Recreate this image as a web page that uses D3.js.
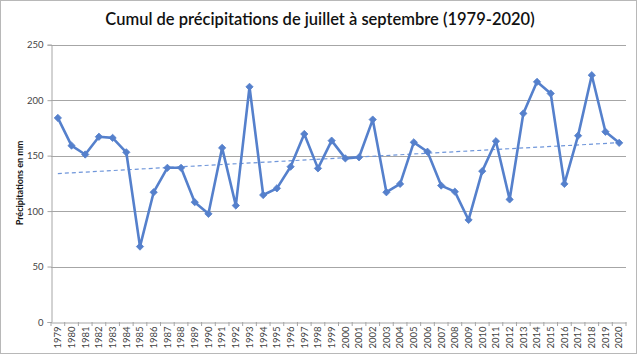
<!DOCTYPE html>
<html><head><meta charset="utf-8">
<script src="https://cdn.jsdelivr.net/npm/d3@7"></script>
<style>body{margin:0;background:#fff}svg{display:block}</style>
</head><body>
<svg id="c" width="640" height="356"></svg>
<script>
const years = ["1979","1980","1981","1982","1983","1984","1985","1986","1987","1988","1989","1990","1991","1992","1993","1994","1995","1996","1997","1998","1999","2000","2001","2002","2003","2004","2005","2006","2007","2008","2009","2010","2011","2012","2013","2014","2015","2016","2017","2018","2019","2020"];
const precip = [184,159,151,167,166,153,68,117,139,139,108,97.5,157,105,212,114.5,120.5,140,169.5,138.5,163.5,147.5,148.5,182.5,117,124.5,162,153.5,123,117.5,92,136,163,110.5,188,216.5,206,124.5,168,222.5,171.5,161.5];
const yTicks = [0,50,100,150,200,250];
const title = "Cumul de précipitations de juillet à septembre (1979-2020)";
const yLabel = "Précipitations en mm";

const svg = d3.select("#c");
const m = {l:51, r:626, t:44.7, b:322};
svg.append("rect").attr("x",0.5).attr("y",0.5).attr("width",636).attr("height",353)
  .attr("fill","#fff").attr("stroke","#b8b8b8");

const x = d3.scaleBand().domain(years).range([m.l, m.r]);
const y = d3.scaleLinear().domain([0,250]).range([m.b, m.t]);

// gridlines
svg.append("g").selectAll("line").data(yTicks.filter(d=>d>0)).join("line")
  .attr("x1",m.l).attr("x2",m.r).attr("y1",d=>Math.round(y(d))+0.5).attr("y2",d=>Math.round(y(d))+0.5)
  .attr("stroke","#a6a6a6").attr("stroke-width",1.2);

// y axis
const ya = svg.append("g").attr("transform",`translate(${m.l+0.5},0)`)
  .call(d3.axisLeft(y).tickValues(yTicks).tickSize(4).tickPadding(4));
ya.select(".domain").attr("stroke","#a6a6a6");
ya.selectAll(".tick line").attr("stroke","#a6a6a6");
ya.selectAll("text").attr("font-family","Lato, 'Open Sans', sans-serif").attr("font-size",9.5).attr("fill","#444");

// x axis
const xa = svg.append("g").attr("transform",`translate(0,${Math.round(m.b)+0.5})`)
  .call(d3.axisBottom(x).tickSize(0).tickPadding(0));
xa.select(".domain").attr("stroke","#a6a6a6");
xa.selectAll(".tick text")
  .attr("font-family","Lato, 'Open Sans', sans-serif").attr("font-size",9.5).attr("fill","#444")
  .attr("transform","rotate(-90)").attr("text-anchor","end").attr("dy","0.35em").attr("x",-4).attr("y",0);
// x tick marks at category boundaries
svg.append("g").selectAll("line").data(years.concat(["end"])).join("line")
  .attr("x1",(d,i)=>m.l + i*x.step()).attr("x2",(d,i)=>m.l + i*x.step())
  .attr("y1",Math.round(m.b)).attr("y2",Math.round(m.b)+4)
  .attr("stroke","#a6a6a6");

// trend line (least squares)
const n = precip.length;
const xi = d3.range(n);
const mx = d3.mean(xi), my = d3.mean(precip);
const slope = d3.sum(xi.map((v,i)=>(v-mx)*(precip[i]-my)))/d3.sum(xi.map(v=>(v-mx)*(v-mx)));
const icpt = my - slope*mx;
const cx = d => x(d) + x.bandwidth()/2;
svg.append("line")
  .attr("x1",cx(years[0])).attr("x2",cx(years[n-1]))
  .attr("y1",y(icpt)).attr("y2",y(icpt+slope*(n-1)))
  .attr("stroke","#6f96da").attr("stroke-width",1.2).attr("stroke-dasharray","4,3");

// series line
const color = "#5580cc";
svg.append("path").datum(precip)
  .attr("fill","none").attr("stroke",color).attr("stroke-width",2.6).attr("stroke-linejoin","round")
  .attr("d", d3.line().x((d,i)=>cx(years[i])).y(d=>y(d)));
svg.append("g").selectAll("path").data(precip).join("path")
  .attr("transform",(d,i)=>`translate(${cx(years[i])},${y(d)})`)
  .attr("d", d3.symbol(d3.symbolDiamond2, 34)())
  .attr("fill",color).attr("stroke",color).attr("stroke-width",0.8);

// title
svg.append("text").attr("x",320).attr("y",25).attr("text-anchor","middle")
  .attr("font-family","Lato, 'Open Sans', sans-serif").attr("font-size",16.5).attr("font-weight",600).attr("fill","#111")
  .text(title);
// y label
svg.append("text").attr("transform","translate(23,183) rotate(-90)").attr("text-anchor","middle")
  .attr("font-family","Lato, 'Open Sans', sans-serif").attr("font-size",9).attr("font-weight","bold").attr("fill","#111")
  .text(yLabel);
</script>
</body></html>
